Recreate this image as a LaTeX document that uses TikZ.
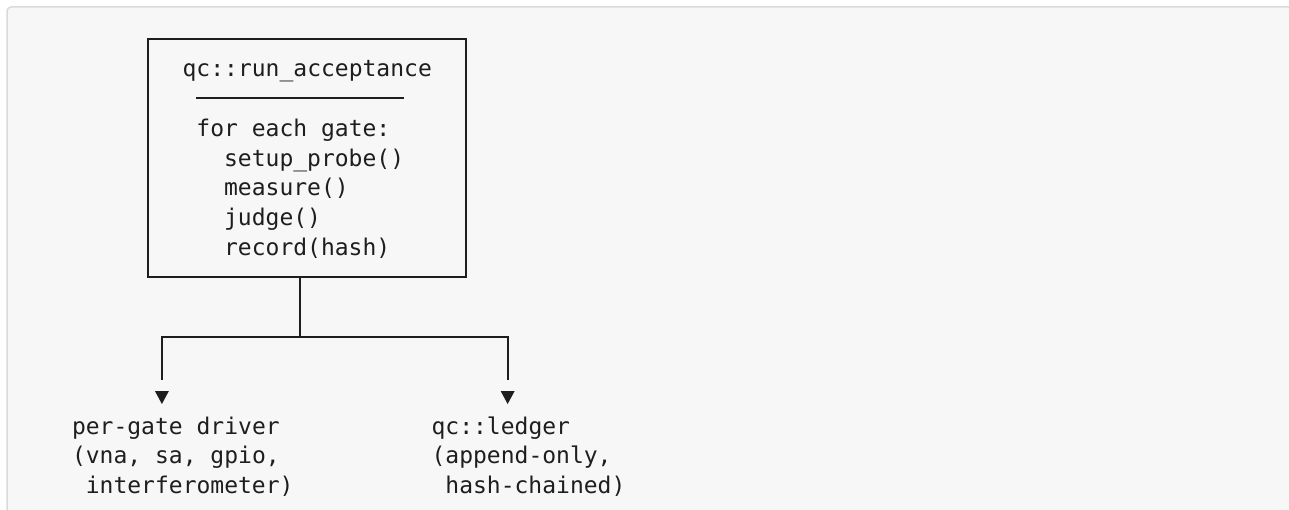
\documentclass[tikz,border=0pt]{standalone}
\usepackage{fontspec}
\setmonofont{DejaVu Sans Mono}
\definecolor{ink}{HTML}{1E1E1E}
\definecolor{panelfill}{HTML}{F7F7F7}
\definecolor{panelrule}{HTML}{DADADA}
\begin{document}
\begin{tikzpicture}[x=1pt,y=-1pt,
  code/.style={inner sep=0pt,outer sep=0pt,anchor=base west,text=ink,
    font=\ttfamily\fontsize{23}{29.75}\selectfont},
  rule/.style={draw=ink,line width=2pt},
  downtip/.style={fill=ink}]
  % page and code panel
  \useasboundingbox (0,0) rectangle (1289,510);
  \clip (0,0) rectangle (1289,510);
  \fill[white] (0,0) rectangle (1289,510);
  \draw[panelrule,fill=panelfill,line width=1.5pt,rounded corners=4pt]
    (7,7) rectangle (1292,540);
  % character grid: column c starts at 72 + c*13.83
  \def\cw{13.83}
  % the acceptance box
  \node[rule,minimum width=318.1pt,minimum height=238pt,inner sep=0pt]
    (box) at (307.15,158) {};
  \node[code] (title) at ({72+8*\cw},77) {qc::run\_acceptance};
  \draw[rule] ({72+9*\cw},98.5) -- ({72+24*\cw},98.5);
  \node[code] (loop)  at ({72+9*\cw},{77+2*29.75}) {for each gate:};
  \node[code] (setup) at ({72+11*\cw},{77+3*29.75}) {setup\_probe()};
  \node[code] (meas)  at ({72+11*\cw},{77+4*29.75}) {measure()};
  \node[code] (judge) at ({72+11*\cw},{77+5*29.75}) {judge()};
  \node[code] (rec)   at ({72+11*\cw},{77+6*29.75}) {record(hash)};
  % branch point and arrow tips
  \coordinate (split) at ({72+16.5*\cw},336.5);
  \coordinate (tipL) at ({72+6.5*\cw},391);
  \coordinate (tipR) at ({72+31.5*\cw},391);
  \draw[rule] (box.south -| split) -- (split);
  \draw[rule,shorten >=11pt] (split) -| (tipL);
  \draw[rule,shorten >=11pt] (split) -| (tipR);
  \fill[downtip] (tipL) ++(-7,0) -- ++(14,0) -- ++(-7,13) -- cycle;
  \fill[downtip] (tipR) ++(-7,0) -- ++(14,0) -- ++(-7,13) -- cycle;
  % targets
  \node[code] (drv1) at ({72+0*\cw},{77+12*29.75}) {per-gate driver};
  \node[code] (drv2) at ({72+0*\cw},{77+13*29.75}) {(vna, sa, gpio,};
  \node[code] (drv3) at ({72+1*\cw},{77+14*29.75}) {interferometer)};
  \node[code] (led1) at ({72+26*\cw},{77+12*29.75}) {qc::ledger};
  \node[code] (led2) at ({72+26*\cw},{77+13*29.75}) {(append-only,};
  \node[code] (led3) at ({72+27*\cw},{77+14*29.75}) {hash-chained)};
\end{tikzpicture}
\end{document}
